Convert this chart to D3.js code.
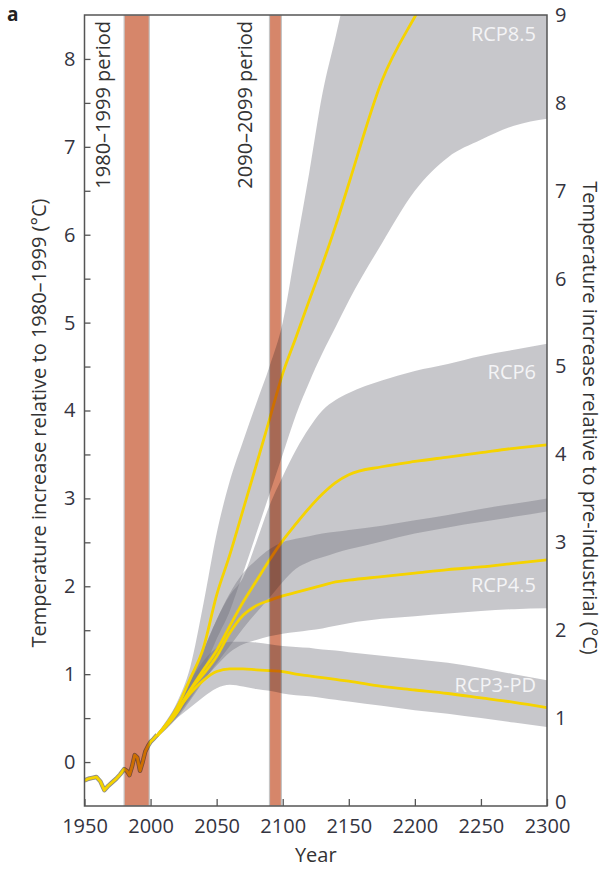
<!DOCTYPE html>
<html>
<head>
<meta charset="utf-8">
<script src="https://cdn.jsdelivr.net/npm/d3@7"></script>
<style>
  body { margin: 0; background: #fff; }
  #container { width: 605px; height: 870px; position: relative; }
  text { font-family: "Open Sans", "Noto Sans", sans-serif; }
</style>
</head>
<body>
<div id="container"></div>
<script>
// observed record (relative to 1980-1999, degC)
const histYears = [1950,1953,1956,1959,1962,1965,1968,1971,1974,1977,1980,1982,1984,1986,1988,1990,1992,1994,1996,1998,2000,2002,2005];
const histValues = [-0.21,-0.19,-0.18,-0.17,-0.22,-0.32,-0.27,-0.23,-0.19,-0.14,-0.08,-0.10,-0.15,-0.05,0.08,0.05,-0.10,0.00,0.12,0.18,0.23,0.26,0.31];

// projections, all on the same year grid
const projYears = [2005,2020,2030,2040,2050,2060,2070,2080,2090,2100,2110,2120,2130,2140,2150,2175,2200,2225,2250,2275,2300];

const rcp85Mid = [0.30,0.62,0.95,1.30,1.90,2.36,2.87,3.38,3.90,4.42,4.83,5.25,5.66,6.10,6.58,7.75,8.48,9.10,9.60,10.0,10.4];
const rcp85Hi  = [0.32,0.68,1.08,1.80,2.60,3.20,3.65,4.08,4.50,5.00,5.85,6.70,7.60,8.25,8.90,10.0,11.0,11.5,12.0,12.5,13.0];
const rcp85Lo  = [0.28,0.52,0.76,1.05,1.40,1.72,2.15,2.60,3.05,3.50,3.95,4.32,4.65,4.95,5.25,5.90,6.50,6.88,7.08,7.24,7.32];

const rcp6Mid = [0.30,0.56,0.82,1.05,1.27,1.55,1.82,2.06,2.30,2.52,2.71,2.89,3.05,3.18,3.27,3.36,3.42,3.47,3.52,3.57,3.61];
const rcp6Hi  = [0.33,0.62,0.92,1.27,1.62,1.90,2.10,2.50,2.92,3.25,3.55,3.80,4.00,4.12,4.20,4.34,4.45,4.53,4.62,4.69,4.76];
const rcp6Lo  = [0.28,0.50,0.70,0.92,1.12,1.32,1.52,1.70,1.87,2.05,2.20,2.28,2.33,2.38,2.42,2.51,2.60,2.67,2.73,2.79,2.85];

const rcp45Mid = [0.30,0.58,0.82,1.00,1.20,1.47,1.67,1.78,1.84,1.89,1.93,1.97,2.01,2.05,2.07,2.11,2.15,2.19,2.22,2.26,2.30];
const rcp45Hi  = [0.33,0.64,0.95,1.28,1.62,1.92,2.15,2.30,2.42,2.50,2.54,2.57,2.60,2.62,2.64,2.69,2.75,2.81,2.88,2.94,3.00];
const rcp45Lo  = [0.28,0.52,0.72,0.93,1.10,1.25,1.34,1.39,1.43,1.46,1.48,1.50,1.52,1.55,1.58,1.63,1.66,1.69,1.72,1.74,1.75];

const rcp3Mid = [0.30,0.58,0.78,0.93,1.03,1.06,1.06,1.05,1.04,1.03,1.00,0.98,0.96,0.94,0.92,0.86,0.82,0.78,0.73,0.68,0.62];
const rcp3Hi  = [0.32,0.66,0.92,1.15,1.30,1.37,1.37,1.36,1.34,1.32,1.31,1.30,1.28,1.27,1.25,1.21,1.17,1.13,1.07,1.00,0.93];
const rcp3Lo  = [0.28,0.50,0.62,0.74,0.84,0.88,0.86,0.83,0.81,0.78,0.76,0.75,0.73,0.71,0.69,0.64,0.59,0.55,0.50,0.45,0.40];

const scenarioNames = ["RCP8.5","RCP6","RCP4.5","RCP3-PD"];
const scenarioMid = [rcp85Mid, rcp6Mid, rcp45Mid, rcp3Mid];
const scenarioHi = [rcp85Hi, rcp6Hi, rcp45Hi, rcp3Hi];
const scenarioLo = [rcp85Lo, rcp6Lo, rcp45Lo, rcp3Lo];
// where each name sits (year, value on left axis)
const labelYear = [2300,2300,2300,2300];
const labelValue = [8.2,4.36,1.93,0.8];

const periodNames = ["1980\u20131999 period","2090\u20132099 period"];
const periodStart = [1980,2090];
const periodEnd = [1999,2099];

const xTicks = [1950,2000,2050,2100,2150,2200,2250,2300];
const yTicks = d3.range(0, 8.01, 0.5);
const y2Ticks = [0,1,2,3,4,5,6,7,8,9];

const width = 605, height = 870;
const margin = {top: 15, right: 58, bottom: 64, left: 84.5};

const svg = d3.select("#container").append("svg")
    .attr("width", width)
    .attr("height", height);

const x = d3.scaleLinear().domain([1950, 2300]).range([margin.left, width - margin.right]);
const y = d3.scaleLinear().domain([-0.5, 8.5]).range([height - margin.bottom, margin.top]);
const y2 = d3.scaleLinear().domain([0, 9]).range([height - margin.bottom, margin.top]);

svg.append("clipPath").attr("id", "plotclip")
  .append("rect")
    .attr("x", x(1950)).attr("y", y(8.5))
    .attr("width", x(2300) - x(1950)).attr("height", y(-0.5) - y(8.5));

const plot = svg.append("g").attr("clip-path", "url(#plotclip)");

// uncertainty bands
const area = d3.area()
    .x((d, i) => x(projYears[i]))
    .y0(d => y(d[0]))
    .y1(d => y(d[1]))
    .curve(d3.curveMonotoneX);

scenarioNames.forEach((name, s) => {
  const pts = projYears.map((yr, i) => [scenarioLo[s][i], scenarioHi[s][i]]);
  plot.append("path")
      .attr("d", area(pts))
      .attr("fill", "#74747c")
      .attr("fill-opacity", 0.4);
});

// historical line
const histLine = d3.line()
    .x((d, i) => x(histYears[i]))
    .y(d => y(d));
plot.append("path")
    .attr("d", histLine(histValues))
    .attr("fill", "none")
    .attr("stroke", "#8a8a8a")
    .attr("stroke-width", 4.4)
    .attr("stroke-linejoin", "round");
plot.append("path")
    .attr("d", histLine(histValues))
    .attr("fill", "none")
    .attr("stroke", "#f5d300")
    .attr("stroke-width", 2.8)
    .attr("stroke-linejoin", "round");

// scenario means
const line = d3.line()
    .x((d, i) => x(projYears[i]))
    .y(d => y(d))
    .curve(d3.curveMonotoneX);
scenarioMid.forEach(vals => {
  plot.append("path")
      .attr("d", line(vals))
      .attr("fill", "none")
      .attr("stroke", "#f5d300")
      .attr("stroke-width", 2.8);
});

// averaging periods
periodStart.forEach((p, i) => {
  plot.append("rect")
      .attr("x", x(p))
      .attr("y", y(8.5))
      .attr("width", x(periodEnd[i]) - x(p))
      .attr("height", y(-0.5) - y(8.5))
      .attr("fill", "#d6866a")
      .attr("stroke", "#c4c4c4")
      .attr("stroke-width", 1.2)
      .style("mix-blend-mode", "multiply");
});

// scenario names
scenarioNames.forEach((name, i) => {
  svg.append("text")
      .attr("x", x(labelYear[i]) - 11)
      .attr("y", y(labelValue[i]))
      .attr("text-anchor", "end")
      .attr("fill", "#f4f4f6")
      .style("font-size", "20px")
      .text(name);
});

// period names, vertical
periodNames.forEach((name, i) => {
  const px = [110, 252][i];
  svg.append("text")
      .attr("transform", "translate(" + px + "," + 21 + ") rotate(-90)")
      .attr("text-anchor", "end")
      .attr("fill", "#333")
      .style("font-size", "20px")
      .text(name);
});

// frame
svg.append("rect")
    .attr("x", x(1950)).attr("y", y(8.5))
    .attr("width", x(2300) - x(1950)).attr("height", y(-0.5) - y(8.5))
    .attr("fill", "none")
    .attr("stroke", "#555")
    .attr("stroke-width", 1.5);

// axes
const xAxis = d3.axisBottom(x).tickValues(xTicks).tickFormat(d3.format("d"))
    .tickSize(-7).tickPadding(13);
const gx = svg.append("g").attr("transform", "translate(0," + y(-0.5) + ")").call(xAxis);

const yAxis = d3.axisLeft(y).tickValues(yTicks)
    .tickFormat(d => Number.isInteger(d) ? d : "")
    .tickSize(-6).tickPadding(9);
const gy = svg.append("g").attr("transform", "translate(" + x(1950) + ",0)").call(yAxis);

const y2Axis = d3.axisRight(y2).tickValues(y2Ticks).tickSize(0).tickPadding(8);
const gy2 = svg.append("g").attr("transform", "translate(" + x(2300) + ",0)").call(y2Axis);

[gx, gy, gy2].forEach(g => {
  g.select(".domain").remove();
  g.selectAll(".tick line").attr("stroke", "#555").attr("stroke-width", 1.3);
  g.selectAll("text")
      .attr("fill", "#34343f")
      .style("font-family", "'Open Sans', sans-serif")
      .style("font-size", "20px");
});
// the bottom "0" of the right axis sits just above the 2300 label
gy2.selectAll(".tick text").filter(d => d === 0).attr("y", -4);

// titles
svg.append("text")
    .attr("x", (x(1950) + x(2300)) / 2)
    .attr("y", 862)
    .attr("text-anchor", "middle")
    .attr("fill", "#333")
    .style("font-size", "20px")
    .text("Year");

svg.append("text")
    .attr("transform", "translate(46," + 423 + ") rotate(-90)")
    .attr("text-anchor", "middle")
    .attr("fill", "#333")
    .style("font-size", "20px")
    .text("Temperature increase relative to 1980\u20131999 (\u00b0C)");

svg.append("text")
    .attr("transform", "translate(583," + 418 + ") rotate(90)")
    .attr("text-anchor", "middle")
    .attr("fill", "#333")
    .style("font-size", "20px")
    .text("Temperature increase relative to pre-industrial (\u00b0C)");

svg.append("text")
    .attr("x", 7)
    .attr("y", 21)
    .attr("fill", "#222")
    .style("font-size", "19px")
    .style("font-weight", "bold")
    .text("a");
</script>
</body>
</html>
